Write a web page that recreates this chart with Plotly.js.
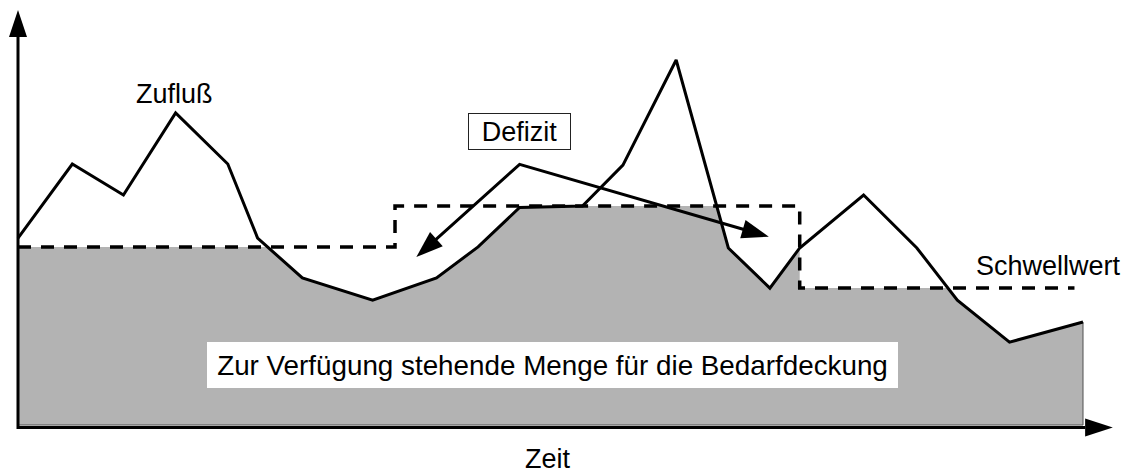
<!DOCTYPE html>
<html>
<head>
<meta charset="utf-8">
<script src="https://cdn.plot.ly/plotly-3.0.1.min.js"></script>
<style>html,body{margin:0;padding:0;background:#fff;overflow:hidden}</style>
</head>
<body>
<div id="chart" style="width:1125px;height:473px"></div>
<script>
// ---- Daten (willkürliche Einheiten) ----
const zeit    = [0, 5.1, 9.9, 14.8, 19.7, 22.5, 26.7, 33.3, 39.3, 43.2, 47.1, 53.0, 56.8, 61.8, 66.7, 70.6, 73.4, 79.4, 84.4, 88.2, 93.1, 100];
const zufluss = [51.2, 71.5, 63.0, 85.5, 71.5, 51.2, 40.3, 34.2, 40.3, 48.8, 59.6, 60.0, 71.2, 100.0, 48.5, 37.5, 48.5, 63.0, 48.5, 34.2, 22.7, 28.2];
const schwelleZeit = [0, 35.4, 73.4, 99.2];
const schwelleWert = [48.8, 60.0, 37.5, 37.5];
// Defizit-Pfeile: Ausgangspunkt und Ziele
const defizitVon    = [47.1, 71.4];
const defizitLinks  = [37.4, 46.0];
const defizitRechts = [70.5, 51.6];
// Beschriftungen
const labelZufluss  = 'Zufluß';
const labelSchwelle = 'Schwellwert';
const labelDefizit  = 'Defizit';
const labelMenge    = 'Zur Verfügung stehende Menge für die Bedarfdeckung';
const labelZeit     = 'Zeit';

// ---- Achsenbereiche ----
const W = 1125, H = 473;
const xr = [-1.690, 103.944];
const yr = [-13.151, 116.438];
const PX_X = W / (xr[1] - xr[0]);
const PX_Y = H / (yr[1] - yr[0]);

function interp(x) {
  for (let i = 0; i < zeit.length - 1; i++) {
    if (x >= zeit[i] && x <= zeit[i + 1]) {
      const t = (x - zeit[i]) / (zeit[i + 1] - zeit[i]);
      return zufluss[i] + t * (zufluss[i + 1] - zufluss[i]);
    }
  }
  return zufluss[zufluss.length - 1];
}
function schwelleAt(x) {
  let v = schwelleWert[0];
  for (let i = 0; i < schwelleZeit.length; i++) if (schwelleZeit[i] <= x) v = schwelleWert[i];
  return v;
}

// verfügbare Menge = min(Zufluss, Schwellwert)
const xEnd = zeit[zeit.length - 1];
const bp = Array.from(new Set(zeit.concat(schwelleZeit.filter(v => v <= xEnd)))).sort((a, b) => a - b);
const px = [0], py = [0];
for (let i = 0; i < bp.length - 1; i++) {
  const a = bp[i], b = bp[i + 1];
  const T = schwelleAt((a + b) / 2);
  const fa = interp(a), fb = interp(b);
  px.push(a); py.push(Math.min(fa, T));
  if ((fa - T) * (fb - T) < 0) {
    px.push(a + (T - fa) / (fb - fa) * (b - a)); py.push(T);
  }
  px.push(b); py.push(Math.min(fb, T));
}
px.push(xEnd); py.push(0);

const traces = [
  { x: px, y: py, mode: 'lines', fill: 'toself', fillcolor: '#b3b3b3', line: { width: 0 }, hoverinfo: 'skip' },
  { x: [0, xEnd, xEnd], y: [0, 0, Math.min(zufluss[zufluss.length - 1], schwelleAt(xEnd))], mode: 'lines', line: { color: '#505050', width: 1 }, hoverinfo: 'skip' },
  { x: schwelleZeit, y: schwelleWert, mode: 'lines', line: { color: '#000', width: 3.5, dash: '13px,10px', shape: 'hv' }, hoverinfo: 'skip' },
  { x: zeit, y: zufluss, mode: 'lines', line: { color: '#000', width: 3 }, hoverinfo: 'skip' }
];

// ---- Pfeile ----
function headPts(von, nach, len, breite) {
  const dx = (nach[0] - von[0]) * PX_X, dy = (nach[1] - von[1]) * PX_Y;
  const d = Math.hypot(dx, dy), ux = dx / d, uy = dy / d;
  const bx = nach[0] - ux * len / PX_X, by = nach[1] - uy * len / PX_Y;
  const nx = -uy * breite / 2, ny = ux * breite / 2;
  return {
    base: [bx + ux * 2 / PX_X, by + uy * 2 / PX_Y],
    path: `M${nach[0]},${nach[1]} L${bx + nx / PX_X},${by + ny / PX_Y} L${bx - nx / PX_X},${by - ny / PX_Y} Z`
  };
}
const hL = headPts(defizitVon, defizitLinks, 27, 19);
const hR = headPts(defizitVon, defizitRechts, 27, 19);

const axY0 = -0.7;           // Lage der Zeitachse
const xAxisBase = 100.2, xAxisTip = 102.8, xHalf = 9 / PX_Y;
const yAxisBase = 106.3, yAxisTip = 113.7, yHalf = 9 / PX_X;

const shapes = [
  // Defizit-Pfeillinien
  { type: 'path', path: `M${hL.base[0]},${hL.base[1]} L${defizitVon[0]},${defizitVon[1]} L${hR.base[0]},${hR.base[1]}`,
    line: { color: '#000', width: 3 }, fillcolor: 'rgba(0,0,0,0)' },
  { type: 'path', path: hL.path, fillcolor: '#000', line: { width: 0 } },
  { type: 'path', path: hR.path, fillcolor: '#000', line: { width: 0 } },
  // Achsen
  { type: 'line', x0: 0, y0: axY0, x1: xAxisBase, y1: axY0, line: { color: '#000', width: 3 } },
  { type: 'path', path: `M${xAxisTip},${axY0} L${xAxisBase},${axY0 + xHalf} L${xAxisBase},${axY0 - xHalf} Z`, fillcolor: '#000', line: { width: 0 } },
  { type: 'line', x0: 0, y0: axY0 - 0.4, x1: 0, y1: yAxisBase, line: { color: '#000', width: 3 } },
  { type: 'path', path: `M0,${yAxisTip} L${-yHalf},${yAxisBase} L${yHalf},${yAxisBase} Z`, fillcolor: '#000', line: { width: 0 } }
];

const F = { family: 'Liberation Sans, Arial, sans-serif', size: 27, color: '#000' };
const FM = { family: 'Liberation Sans, Arial, sans-serif', size: 27.8, color: '#000' };
const annotations = [
  { x: 14.7, y: 90.7, text: labelZufluss, showarrow: false, font: F },
  { x: 96.8, y: 43.6, text: labelSchwelle, showarrow: false, font: F },
  { x: 47.1, y: 80.4, text: labelDefizit, showarrow: false, font: F, bgcolor: '#fff', bordercolor: '#222', borderwidth: 1, borderpad: 0, width: 101, height: 35 },
  { x: 50.2, y: 16.4, text: labelMenge, showarrow: false, font: FM, bgcolor: '#fff', borderwidth: 0, borderpad: 0, width: 691, height: 46 },
  { x: 49.8, y: -9.3, text: labelZeit, showarrow: false, font: F }
];

const layout = {
  width: W, height: H, autosize: false,
  margin: { l: 0, r: 0, t: 0, b: 0, pad: 0 },
  paper_bgcolor: '#fff', plot_bgcolor: '#fff',
  showlegend: false,
  xaxis: { range: xr, visible: false, fixedrange: true },
  yaxis: { range: yr, visible: false, fixedrange: true },
  shapes: shapes,
  annotations: annotations
};
Plotly.newPlot('chart', traces, layout, { staticPlot: true, displayModeBar: false });
</script>
</body>
</html>
